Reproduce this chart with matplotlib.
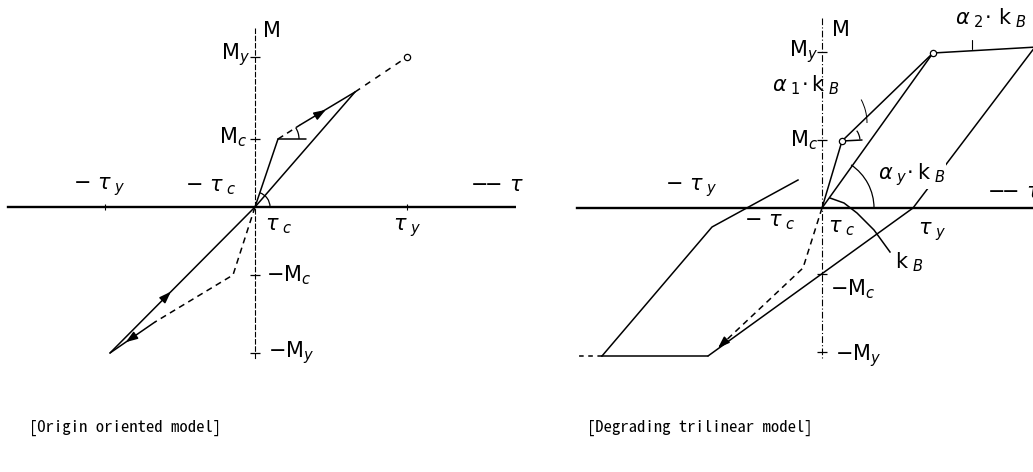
import numpy as np
import matplotlib
matplotlib.use("Agg")
import matplotlib.pyplot as plt
from matplotlib.patches import Arc

W, H = 1033, 472

# ---- left panel: origin oriented model (units ~ px from the axes origin) ----
L_crack = (23, 68)
L_yield = (152, 150)
L_peak = (100, 115)
L_neg_crack = (-22, -68)
L_neg_unload = (-100, -115)
L_neg_tip = (-145, -146)
L_Mticks = [150, 68, -68, -146]

# ---- right panel: degrading trilinear model ----
R_crack = (20, 67)
R_yield = (111, 155)
R_post_end = (215, 161)
R_unload_top = (213, 161)
R_zero_cross = (91, 0)
R_neg_reload_end = (-114, -148)
R_neg_flat_start = (-220, -148)
R_neg_flat_dash = (-246, -148)
R_neg_bend = (-110, -19)
R_neg_up_end = (-24, 28)
R_dash_path_t = [0, -19, -104]
R_dash_path_m = [0, -60, -140]
R_kB_leader_t = [8, 22, 35, 52, 68]
R_kB_leader_m = [10, 5, -5, -22, -44]
R_Mticks = [156, 68, -66, -144]

caption_left = "[Origin oriented model]"
caption_right = "[Degrading trilinear model]"

lw = 1.1
fs = 15

fig = plt.figure(figsize=(W / 100, H / 100), dpi=100)
axL = fig.add_axes([0, 0, 516 / W, 1])
axL.set_xlim(-255, 261)
axL.set_ylim(-265, 207)
axR = fig.add_axes([516 / W, 0, 517 / W, 1])
axR.set_xlim(-306, 211)
axR.set_ylim(-264, 208)
for ax in (axL, axR):
    ax.set_axis_off()


def seg(ax, p, q, **kw):
    kw.setdefault("color", "black")
    kw.setdefault("lw", lw)
    ax.plot([p[0], q[0]], [p[1], q[1]], solid_capstyle="round", **kw)


def arrow_on(ax, p, q, frac):
    a = np.array(p, float)
    b = np.array(q, float)
    tip = a + (b - a) * frac
    tail = tip - (b - a) / np.linalg.norm(b - a) * 8
    ax.annotate("", xy=tip, xytext=tail,
                arrowprops=dict(arrowstyle="-|>,head_length=0.7,head_width=0.25",
                                color="black", lw=lw, shrinkA=0, shrinkB=0))


# ===== left panel =====
axL.plot([-247, 288], [0, 0], color="black", lw=1.7)
axL.plot([0, 0], [179, -153], color="black", lw=0.8, ls=(0, (5, 1.5)))
axL.plot(np.zeros(len(L_Mticks)), L_Mticks, ls="none", marker="_", ms=7, mew=0.9, color="black")
axL.plot([-150, 152], [0, 0], ls="none", marker="|", ms=4, mew=0.8, color="black")

seg(axL, (0, 0), L_crack)
seg(axL, L_crack, (45, 82), ls=(0, (4, 3)))
seg(axL, (45, 82), L_peak)
seg(axL, L_peak, L_yield, ls=(0, (4, 4)))
seg(axL, (0, 0), L_peak)
seg(axL, L_crack, (L_crack[0] + 28, L_crack[1]))
axL.plot(*L_yield, marker="o", ms=4.5, mfc="white", mec="black", mew=0.9)
arrow_on(axL, L_crack, L_peak, 0.62)

seg(axL, (0, 0), L_neg_tip)
seg(axL, L_neg_unload, L_neg_tip)
axL.plot([0, L_neg_crack[0], L_neg_unload[0]], [0, L_neg_crack[1], L_neg_unload[1]],
         color="black", lw=lw, ls=(0, (4, 3)))
arrow_on(axL, L_neg_tip, (0, 0), 0.42)
arrow_on(axL, L_neg_unload, L_neg_tip, 0.65)

axL.add_patch(Arc((0, 0), 30, 30, theta1=0, theta2=72, color="black", lw=0.9))
axL.add_patch(Arc(L_crack, 42, 42, theta1=0, theta2=33, color="black", lw=0.9))

txt = dict(color="black", fontsize=fs, va="center")
axL.text(8, 176, "M", ha="left", **txt)
axL.text(-5, 152, r"$\mathrm{M}_{y}$", ha="right", **txt)
axL.text(-8, 70, r"$\mathrm{M}_{c}$", ha="right", **txt)
axL.text(-182, 20, r"$-\ \tau_{\ y}$", ha="left", **txt)
axL.text(-70, 20, r"$-\ \tau_{\ c}$", ha="left", **txt)
axL.text(215, 22, r"$-\!\!-\,\tau$", ha="left", **txt)
axL.text(10, -19, r"$\tau_{\ c}$", ha="left", **txt)
axL.text(138, -21, r"$\tau_{\ y}$", ha="left", **txt)
axL.text(11, -68, r"$-\mathrm{M}_{c}$", ha="left", **txt)
axL.text(13, -146, r"$-\mathrm{M}_{y}$", ha="left", **txt)

# ===== right panel =====
axR.plot([-245, 215], [0, 0], color="black", lw=1.7)
axR.plot([0, 0], [190, -150], color="black", lw=0.8, ls=(0, (6, 2, 1, 2)))
axR.plot(np.zeros(len(R_Mticks)), R_Mticks, ls="none", marker="_", ms=7, mew=0.9, color="black")

seg(axR, (0, 0), R_crack)
seg(axR, R_crack, R_yield)
seg(axR, (0, 0), R_yield)
seg(axR, R_yield, R_post_end)
seg(axR, R_crack, (R_crack[0] + 20, R_crack[1] + 1))
seg(axR, R_unload_top, R_zero_cross)
seg(axR, R_zero_cross, R_neg_reload_end)
seg(axR, R_neg_reload_end, R_neg_flat_start)
seg(axR, R_neg_flat_start, R_neg_flat_dash, ls=(0, (3, 3)))
axR.plot([R_neg_flat_start[0], R_neg_bend[0], R_neg_up_end[0]],
         [R_neg_flat_start[1], R_neg_bend[1], R_neg_up_end[1]], color="black", lw=lw)
axR.plot(R_dash_path_t, R_dash_path_m, color="black", lw=lw, ls=(0, (4, 3)))
arrow_on(axR, (R_dash_path_t[1], R_dash_path_m[1]), (R_dash_path_t[2], R_dash_path_m[2]), 1.0)
axR.plot(R_kB_leader_t, R_kB_leader_m, color="black", lw=lw)
axR.plot(*R_crack, marker="o", ms=4.5, mfc="white", mec="black", mew=0.9)
axR.plot(*R_yield, marker="o", ms=4.5, mfc="white", mec="black", mew=0.9)

axR.add_patch(Arc((0, 0), 104, 104, theta1=0, theta2=56, color="black", lw=0.9))
axR.add_patch(Arc(R_crack, 36, 36, theta1=5, theta2=35, color="black", lw=0.9))
axR.add_patch(Arc((R_crack[0] - 25, R_crack[1] + 18), 100, 100, theta1=0, theta2=28,
                  color="black", lw=0.7))
seg(axR, (150, 159), (150, 168), lw=0.8)

axR.text(10, 178, "M", ha="left", **txt)
axR.text(-4, 156, r"$\mathrm{M}_{y}$", ha="right", **txt)
axR.text(-50, 123, r"$\alpha_{\ 1}\!\cdot\mathrm{k}_{\ B}$", ha="left", **txt)
axR.text(-4, 68, r"$\mathrm{M}_{c}$", ha="right", **txt)
axR.text(133, 190, r"$\alpha_{\ 2}\!\cdot\,\mathrm{k}_{\ B}$", ha="left", **txt)
axR.text(-157, 20, r"$-\ \tau_{\ y}$", ha="left", **txt)
axR.text(56, 33, r"$\alpha_{\ y}\!\cdot\mathrm{k}_{\ B}$", ha="left",
         bbox=dict(facecolor="white", edgecolor="none", pad=0.5), **txt)
axR.text(165, 16, r"$-\!\!-\,\tau$", ha="left", **txt)
axR.text(-78, -14, r"$-\ \tau_{\ c}$", ha="left", **txt)
axR.text(6, -20, r"$\tau_{\ c}$", ha="left", **txt)
axR.text(96, -24, r"$\tau_{\ y}$", ha="left", **txt)
axR.text(73, -54, r"$\mathrm{k}_{\ B}$", ha="left", **txt)
axR.text(8, -81, r"$-\mathrm{M}_{c}$", ha="left", **txt)
axR.text(13, -148, r"$-\mathrm{M}_{y}$", ha="left", **txt)

cap = dict(fontsize=12, family=["Noto Sans Mono CJK JP", "Noto Sans CJK JP"],
           ha="center", va="center", color="black")
fig.text(125 / W, 1 - 428 / H, caption_left, **cap)
fig.text(700 / W, 1 - 428 / H, caption_right, **cap)

fig.savefig("out.png", dpi=100, facecolor="white")
